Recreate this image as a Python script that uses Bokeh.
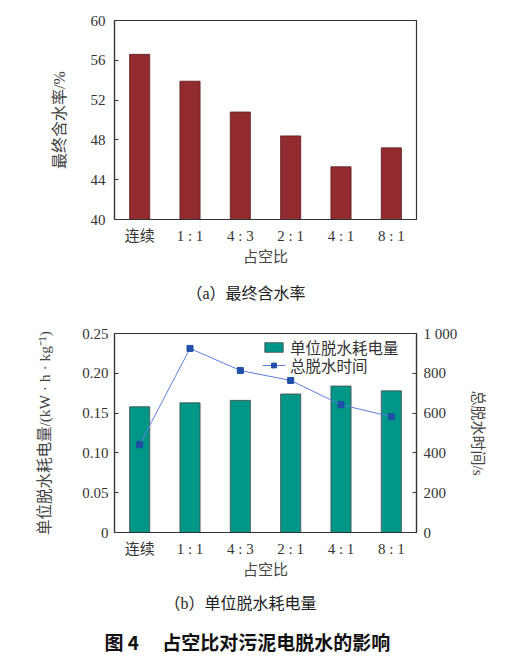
from bokeh.plotting import figure
from bokeh.models import (FactorRange, Range1d, LinearAxis, FixedTicker, Title,
                          Legend, LegendItem, ColumnDataSource)
from bokeh.layouts import column
from bokeh.embed import file_html
from bokeh.resources import INLINE

# ---- data ----
categories = ["连续", "1 : 1", "4 : 3", "2 : 1", "4 : 1", "8 : 1"]
moisture = [56.6, 53.9, 50.8, 48.4, 45.3, 47.2]          # 最终含水率 /%
energy = [0.158, 0.163, 0.166, 0.174, 0.184, 0.178]      # 单位脱水耗电量 kW·h·kg-1
total_time = [441, 925, 814, 764, 642, 582]              # 总脱水时间 /s
moisture_ticks = [40, 44, 48, 52, 56, 60]
energy_ticks = [0, 0.05, 0.10, 0.15, 0.20, 0.25]
energy_tick_labels = ["0", "0.05", "0.10", "0.15", "0.20", "0.25"]
time_ticks = [0, 200, 400, 600, 800, 1000]
time_tick_labels = ["0", "200", "400", "600", "800", "1 000"]

FONT = "'Liberation Serif', 'Noto Sans CJK SC'"
CJK = "'Noto Sans CJK SC'"
TXT = "#333333"
FRAME = "#333333"


def style_common(p):
    p.outline_line_color = FRAME
    p.outline_line_width = 1.2
    p.xgrid.visible = False
    p.ygrid.visible = False
    p.background_fill_color = "white"
    p.border_fill_color = "white"
    xa = p.xaxis[0]
    xa.major_tick_line_color = None
    xa.minor_tick_line_color = None
    xa.axis_line_color = FRAME
    xa.axis_line_width = 1.2
    xa.major_label_text_font = FONT
    xa.major_label_text_font_size = "15px"
    xa.major_label_text_color = TXT
    xa.major_label_standoff = 2
    xa.axis_label_text_font = FONT
    xa.axis_label_text_font_size = "15px"
    xa.axis_label_text_font_style = "normal"
    xa.axis_label_text_color = "#444444"
    xa.axis_label_standoff = 2


def style_y(ax, ticks, labels, standoff, label_standoff, label_size="15px"):
    ax.ticker = FixedTicker(ticks=ticks)
    ax.major_label_overrides = {t: l for t, l in zip(ticks, labels)}
    ax.major_tick_in = 4
    ax.major_tick_out = 0
    ax.minor_tick_line_color = None
    ax.axis_line_color = FRAME
    ax.axis_line_width = 1.2
    ax.major_tick_line_color = FRAME
    ax.major_label_text_font = FONT
    ax.major_label_text_font_size = "15px"
    ax.major_label_text_color = TXT
    ax.major_label_standoff = standoff
    ax.axis_label_text_font = FONT
    ax.axis_label_text_font_size = label_size
    ax.axis_label_text_font_style = "normal"
    ax.axis_label_text_color = "#444444"
    ax.axis_label_standoff = label_standoff


# ---- (a) ----
p1 = figure(width=490, height=317, x_range=FactorRange(*categories),
            y_range=Range1d(40, 60), output_backend="svg", toolbar_location=None,
            min_border_left=114, min_border_right=74, min_border_top=20,
            min_border_bottom=98)
src1 = ColumnDataSource(dict(cat=categories, val=moisture))
p1.vbar(x="cat", top="val", bottom=40, width=0.4, source=src1,
        fill_color="#922B30", line_color="#5a1a1d", line_width=0.8)
style_common(p1)
p1.xaxis.axis_label = "占空比"
style_y(p1.yaxis[0], moisture_ticks, [str(t) for t in moisture_ticks], 9, 20, "16px")
p1.yaxis.axis_label = "最终含水率/%"
cap_a = Title(text="（a）最终含水率", align="left", text_font=FONT,
              text_font_size="16px", text_font_style="normal", text_color="#222222",
              offset=72, standoff=30)
p1.add_layout(cap_a, "below")

# ---- (b) ----
p2 = figure(width=490, height=340, x_range=FactorRange(*categories),
            y_range=Range1d(0, 0.25), output_backend="svg", toolbar_location=None,
            min_border_left=114, min_border_right=74, min_border_top=16,
            min_border_bottom=125)
p2.extra_y_ranges = {"t": Range1d(0, 1000)}
src2 = ColumnDataSource(dict(cat=categories, e=energy, t=total_time))
bars = p2.vbar(x="cat", top="e", bottom=0, width=0.4, source=src2,
               fill_color="#009688", line_color="#4a4a4a", line_width=0.8)
ln = p2.line(x="cat", y="t", y_range_name="t", source=src2,
             line_color="#5B7FDB", line_width=1)
mk = p2.scatter(x="cat", y="t", y_range_name="t", source=src2, marker="square",
                size=6, fill_color="#1F4FA8", line_color="#1F4FA8")
style_common(p2)
p2.xaxis.axis_label = "占空比"
style_y(p2.yaxis[0], energy_ticks, energy_tick_labels, 6, 26, "15.5px")
p2.yaxis.axis_label = "单位脱水耗电量/(kW · h · kg⁻¹)"

ra = LinearAxis(y_range_name="t", axis_label="总脱水时间/s")
p2.add_layout(ra, "right")
style_y(ra, time_ticks, time_tick_labels, 7, 10)

legend_style = dict(border_line_color=None, background_fill_alpha=0,
                    label_text_font=FONT, label_text_font_size="15.5px",
                    label_text_color="#333333", glyph_width=23, glyph_height=12,
                    label_standoff=5, spacing=0, label_height=17, padding=0,
                    margin=0)
leg1 = Legend(items=[LegendItem(label="单位脱水耗电量", renderers=[bars])],
              location=(148, 174), **legend_style)
leg2 = Legend(items=[LegendItem(label="总脱水时间", renderers=[ln, mk])],
              location=(148, 156), **legend_style)
p2.add_layout(leg1)
p2.add_layout(leg2)

cap_b = Title(text="（b）单位脱水耗电量", align="left", text_font=FONT,
              text_font_size="16px", text_font_style="normal", text_color="#222222",
              offset=50, standoff=25)
p2.add_layout(cap_b, "below")
cap_fig = Title(text="图 4\u3000 占空比对污泥电脱水的影响", align="left", text_font=CJK,
                text_font_size="19px", text_font_style="bold", text_color="#111111",
                offset=-10, standoff=3)
p2.add_layout(cap_fig, "below")

layout = column(p1, p2, spacing=0)
open("out.html", "w").write(file_html(layout, INLINE))
